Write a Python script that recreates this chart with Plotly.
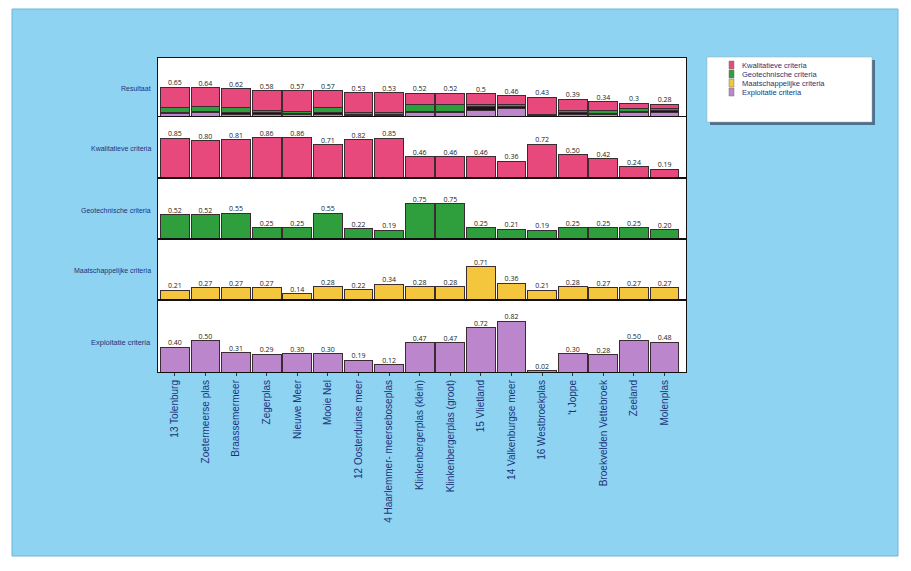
import plotly.graph_objects as go
from plotly.subplots import make_subplots

# --- data -------------------------------------------------------------
locaties = [
    "13 Tolenburg", "Zoetermeerse plas", "Braassemermeer", "Zegerplas",
    "Nieuwe Meer", "Mooie Nel", "12 Oosterduinse meer",
    "4 Haarlemmer- meerseboseplas", "Klinkenbergerplas (klein)",
    "Klinkenbergerplas (groot)", "15 Vlietland", "14 Valkenburgse meer",
    "16 Westbroekplas", "'t Joppe", "Broekvelden Vettebroek", "Zeeland",
    "Molenplas",
]
resultaat = [0.65, 0.64, 0.62, 0.58, 0.57, 0.57, 0.53, 0.53, 0.52, 0.52,
             0.5, 0.46, 0.43, 0.39, 0.34, 0.3, 0.28]
kwalitatief = [0.85, 0.80, 0.81, 0.86, 0.86, 0.71, 0.82, 0.85, 0.46, 0.46,
               0.46, 0.36, 0.72, 0.50, 0.42, 0.24, 0.19]
geotechnisch = [0.52, 0.52, 0.55, 0.25, 0.25, 0.55, 0.22, 0.19, 0.75, 0.75,
                0.25, 0.21, 0.19, 0.25, 0.25, 0.25, 0.20]
maatschappelijk = [0.21, 0.27, 0.27, 0.27, 0.14, 0.28, 0.22, 0.34, 0.28, 0.28,
                   0.71, 0.36, 0.21, 0.28, 0.27, 0.27, 0.27]
exploitatie = [0.40, 0.50, 0.31, 0.29, 0.30, 0.30, 0.19, 0.12, 0.47, 0.47,
               0.72, 0.82, 0.02, 0.30, 0.28, 0.50, 0.48]

# weights of each criterion in the final score
gewichten = [0.5, 0.2, 0.1, 0.2]  # kwalitatief, geotechnisch, maatschappelijk, exploitatie

criteria = ["Kwalitatieve criteria", "Geotechnische criteria",
            "Maatschappelijke criteria", "Exploitatie criteria"]
kleuren = ["#e8497c", "#2f9e3c", "#f4c63e", "#bb86cc"]
# the stacked score bar shows the societal share as a dark band
stapelkleuren = ["#e8497c", "#2f9e3c", "#1c1418", "#bb86cc"]
randkleur = "#3b2b33"
tekstkleur = "#1d3478"
achtergrond = "#8fd3f3"

reeksen = [kwalitatief, geotechnisch, maatschappelijk, exploitatie]

# split each final score into weighted criterion shares
delen = [[] for _ in reeksen]
for i, totaal in enumerate(resultaat):
    bijdr = [w * r[i] for w, r in zip(gewichten, reeksen)]
    s = sum(bijdr)
    for k in range(4):
        delen[k].append(totaal * bijdr[k] / s)

# --- figure -----------------------------------------------------------
fig = make_subplots(rows=5, cols=1, shared_xaxes=True, vertical_spacing=0,
                    row_heights=[59, 61, 61, 61, 72])

# stacked final score: exploitatie at the bottom, kwalitatief on top
for k in [3, 2, 1, 0]:
    fig.add_trace(go.Bar(x=locaties, y=delen[k], marker_color=stapelkleuren[k],
                         marker_line=dict(color=randkleur, width=1),
                         showlegend=False, hoverinfo="skip"), row=1, col=1)
fig.add_trace(go.Scatter(x=locaties, y=resultaat, mode="text",
                         text=[f"{v:g}" for v in resultaat],
                         textposition="top center",
                         textfont=dict(size=7, color="#222"),
                         showlegend=False, cliponaxis=False), row=1, col=1)

for k, reeks in enumerate(reeksen):
    rij = k + 2
    fig.add_trace(go.Bar(x=locaties, y=reeks, marker_color=kleuren[k],
                         marker_line=dict(color=randkleur, width=1),
                         name=criteria[k], showlegend=False), row=rij, col=1)
    fig.add_trace(go.Scatter(x=locaties, y=reeks, mode="text",
                             text=[f"{v:.2f}" for v in reeks],
                             textposition="top center",
                             textfont=dict(size=7, color="#222"),
                             showlegend=False, cliponaxis=False), row=rij, col=1)

bereik = [1.28, 1.3, 1.3, 1.3, 1.16]
for r in range(1, 6):
    fig.update_yaxes(range=[0, bereik[r - 1]], showticklabels=False,
                     showgrid=False, zeroline=False, ticks="",
                     showline=True, mirror=True, linecolor="#111", linewidth=1,
                     row=r, col=1)
    fig.update_xaxes(range=[-0.55, 16.7], showgrid=False, showline=True,
                     mirror=True, linecolor="#111", linewidth=1,
                     showticklabels=(r == 5), ticks="outside" if r == 5 else "",
                     ticklen=3, tickcolor="#333",
                     row=r, col=1)
fig.update_xaxes(tickangle=-90, tickfont=dict(family="Liberation Sans", size=10,
                                              color=tekstkleur), row=5, col=1)

# panel titles on the left
L, R, T, B = 158, 225, 58, 199
W, H = 911 - L - R, 571 - T - B


def px(x):
    return (x - L) / W


def py(y):
    return (571 - B - y) / H


titels = [("Resultaat", 88, 7), ("Kwalitatieve criteria", 148, 7),
          ("Geotechnische criteria", 210, 7),
          ("Maatschappelijke criteria", 271, 7),
          ("Exploitatie criteria", 342, 7.5)]
for tekst, ypix, grootte in titels:
    fig.add_annotation(text=tekst, xref="paper", yref="paper",
                       x=px(153), y=py(ypix), xanchor="right", yanchor="middle",
                       showarrow=False,
                       font=dict(family="Liberation Sans", size=grootte,
                                 color=tekstkleur))

# white frame around the blue page, then the legend box with its shadow
vormen = []
for x0, x1, y0, y1 in [(0, 12, 0, 571), (898, 911, 0, 571),
                       (0, 911, 0, 9), (0, 911, 556, 571)]:
    vormen.append(dict(type="rect", xref="paper", yref="paper",
                       x0=px(x0), x1=px(x1), y0=py(y1), y1=py(y0),
                       fillcolor="white", line=dict(width=0)))
vormen.append(dict(type="rect", xref="paper", yref="paper",
                   x0=px(12), x1=px(898), y0=py(556), y1=py(9),
                   fillcolor="rgba(0,0,0,0)", line=dict(color="#6fb4d8", width=1)))
vormen += [
    dict(type="rect", xref="paper", yref="paper",
         x0=px(710), x1=px(875), y0=py(125), y1=py(60),
         fillcolor="#4f7190", line=dict(width=0)),
    dict(type="rect", xref="paper", yref="paper",
         x0=px(707), x1=px(872), y0=py(122), y1=py(57),
         fillcolor="white", line=dict(color="#9aa", width=0.5)),
]
for k, naam in enumerate(criteria):
    ymid = 65 + 9 * k
    vormen.append(dict(type="rect", xref="paper", yref="paper",
                       x0=px(729), x1=px(734), y0=py(ymid + 4), y1=py(ymid - 4),
                       fillcolor=kleuren[k], line=dict(color="#777", width=0.5)))
    fig.add_annotation(text=naam, xref="paper", yref="paper",
                       x=px(740), y=py(ymid), xanchor="left", yanchor="middle",
                       showarrow=False,
                       font=dict(family="Liberation Sans", size=7.5,
                                 color=tekstkleur))

fig.update_layout(
    width=911, height=571,
    margin=dict(l=L, r=R, t=T, b=B),
    paper_bgcolor=achtergrond,
    plot_bgcolor="white",
    barmode="stack",
    bargap=0.06,
    showlegend=False,
    shapes=vormen,
)

fig.write_html("out.html")
